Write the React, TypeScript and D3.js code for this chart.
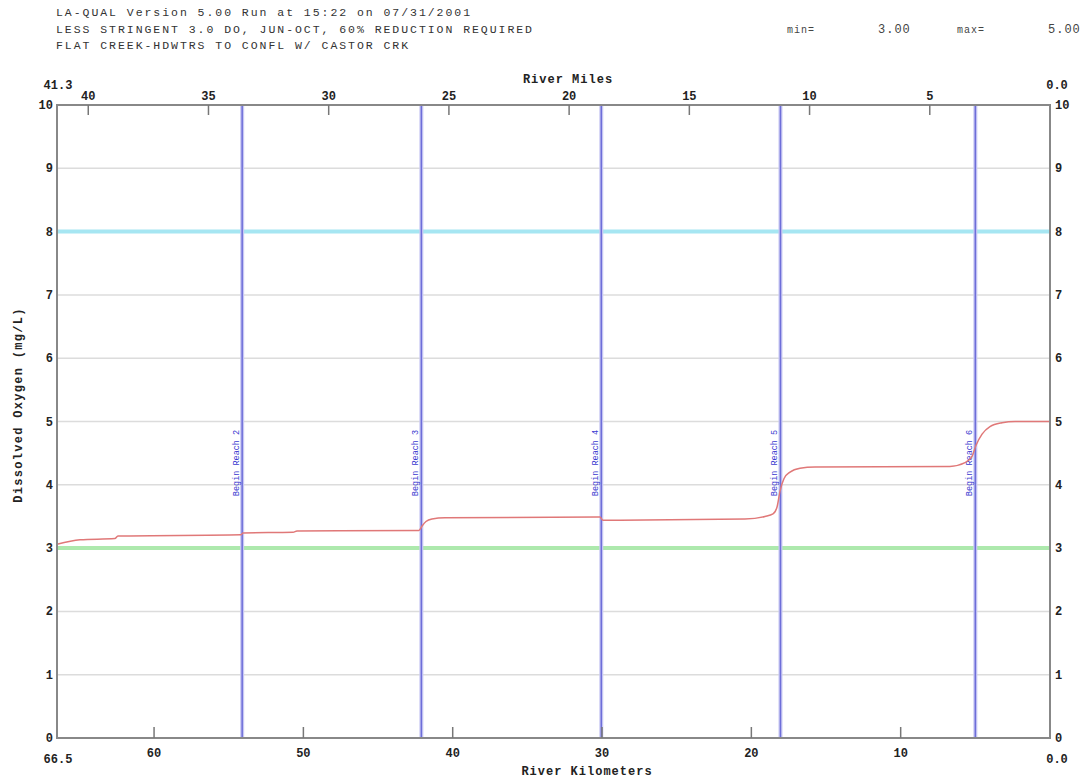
import React from "react";
import * as d3 from "d3";

// Header lines
const headerLines = [
  "LA-QUAL Version 5.00  Run at 15:22 on 07/31/2001",
  "LESS STRINGENT 3.0 DO, JUN-OCT, 60% REDUCTION REQUIRED",
  "FLAT CREEK-HDWTRS TO CONFL W/ CASTOR CRK",
];
const minLabel = "min=";
const minValue = "3.00";
const maxLabel = "max=";
const maxValue = "5.00";

// Axes domains and ticks
const kmRange = [66.5, 0];
const miRange = [41.3, 0];
const doRange = [0, 10];
const kmTicks = [60, 50, 40, 30, 20, 10];
const miTicks = [40, 35, 30, 25, 20, 15, 10, 5];
const doTicks = [0, 1, 2, 3, 4, 5, 6, 7, 8, 9, 10];

// Reach boundaries (river km) and their labels
const reachKm = [54.1, 42.1, 30.05, 18.05, 5.0];
const reachLabels = ["Begin Reach 2", "Begin Reach 3", "Begin Reach 4", "Begin Reach 5", "Begin Reach 6"];

// Criteria lines (mg/L)
const upperCriterion = 8;
const lowerCriterion = 3;

// Simulated dissolved oxygen profile: river km, DO (mg/L)
const profileKm = [
  66.5, 64.96, 62.62, 62.42, 54.18, 54.04, 50.69, 50.43, 42.26, 42.05, 41.79, 41.39,
  40.52, 30.14, 29.94, 20.43, 19.09, 18.55, 18.28, 18.08, 17.81, 17.41, 16.74, 15.74,
  6.7, 5.69, 5.22, 4.96, 4.55, 4.02, 3.21, 2.34, 0,
];
const profileDO = [
  3.06, 3.13, 3.15, 3.19, 3.21, 3.24, 3.25, 3.27, 3.28, 3.35, 3.42, 3.46,
  3.48, 3.49, 3.44, 3.46, 3.5, 3.54, 3.65, 3.9, 4.1, 4.2, 4.26, 4.28,
  4.29, 4.35, 4.45, 4.62, 4.8, 4.92, 4.98, 5.0, 5.0,
];

const W = 1089;
const H = 778;
const left = 57;
const right = 1050;
const top = 105;
const bottom = 738;

const FONT = "'Liberation Mono', 'DejaVu Sans Mono', monospace";

export default function App() {
  const xKm = d3.scaleLinear().domain(kmRange).range([left, right]);
  const xMi = d3.scaleLinear().domain(miRange).range([left, right]);
  const y = d3.scaleLinear().domain(doRange).range([bottom, top]);

  const pts: [number, number][] = profileKm.map((k, i) => [k, profileDO[i]]);
  const line = d3
    .line<[number, number]>()
    .x((d) => xKm(d[0]))
    .y((d) => y(d[1]))
    .curve(d3.curveMonotoneX);

  const tickStyle = { fontFamily: FONT, fontSize: 12, fontWeight: 700, fill: "#222" } as const;

  return (
    <svg
      width={W}
      height={H}
      style={{ position: "absolute", left: 0, top: 0, background: "#fff" }}
    >
      {/* header */}
      {headerLines.map((t, i) => (
        <text
          key={i}
          x={56}
          y={16 + i * 16.5}
          style={{ fontFamily: FONT, fontSize: 11.5, fill: "#333", letterSpacing: 1.95 }}
        >
          {t}
        </text>
      ))}
      <text x={787} y={33} style={{ fontFamily: FONT, fontSize: 10, fill: "#444", letterSpacing: 1 }}>
        {minLabel}
      </text>
      <text x={878} y={33} style={{ fontFamily: FONT, fontSize: 12, fill: "#444", letterSpacing: 1 }}>
        {minValue}
      </text>
      <text x={957} y={33} style={{ fontFamily: FONT, fontSize: 10, fill: "#444", letterSpacing: 1 }}>
        {maxLabel}
      </text>
      <text x={1048} y={33} style={{ fontFamily: FONT, fontSize: 12, fill: "#444", letterSpacing: 1 }}>
        {maxValue}
      </text>

      {/* horizontal grid */}
      {doTicks
        .filter((t) => t > 0 && t < 10)
        .map((t) => (
          <line key={t} x1={left} x2={right} y1={y(t)} y2={y(t)} stroke="#dcdcdc" strokeWidth={1.5} />
        ))}

      {/* criteria */}
      <line x1={left} x2={right} y1={y(upperCriterion)} y2={y(upperCriterion)} stroke="#a6e6f2" strokeWidth={4} />
      <line x1={left} x2={right} y1={y(lowerCriterion)} y2={y(lowerCriterion)} stroke="#ade9ad" strokeWidth={4} />

      {/* reach boundaries */}
      {reachKm.map((k, i) => (
        <g key={k}>
          <line x1={xKm(k)} x2={xKm(k)} y1={top} y2={bottom} stroke="#c9c9f3" strokeWidth={4} />
          <line x1={xKm(k)} x2={xKm(k)} y1={top} y2={bottom} stroke="#6e6ed9" strokeWidth={1.5} />
          <text
            transform={`translate(${xKm(k) - 3},${463}) rotate(-90)`}
            textAnchor="middle"
            style={{ fontFamily: FONT, fontSize: 8.5, fill: "#3a3ad0" }}
          >
            {reachLabels[i]}
          </text>
        </g>
      ))}

      {/* DO profile */}
      <path d={line(pts) || ""} fill="none" stroke="#e07878" strokeWidth={1.5} />

      {/* frame */}
      <rect x={left} y={top} width={right - left} height={bottom - top} fill="none" stroke="#888" strokeWidth={2} />

      {/* bottom km ticks */}
      {kmTicks.map((t) => (
        <g key={t}>
          <line x1={xKm(t)} x2={xKm(t)} y1={bottom} y2={bottom - 11} stroke="#777" strokeWidth={1.5} />
          <text x={xKm(t)} y={757} textAnchor="middle" style={tickStyle}>
            {t}
          </text>
        </g>
      ))}
      <text x={xKm(kmRange[0]) + 1} y={763} textAnchor="middle" style={tickStyle}>
        {kmRange[0].toFixed(1)}
      </text>
      <text x={xKm(kmRange[1]) + 7} y={763} textAnchor="middle" style={tickStyle}>
        {kmRange[1].toFixed(1)}
      </text>
      <text x={587} y={775} textAnchor="middle" style={{ ...tickStyle, letterSpacing: 1 }}>
        River Kilometers
      </text>

      {/* top mile ticks */}
      {miTicks.map((t) => (
        <g key={t}>
          <line x1={xMi(t)} x2={xMi(t)} y1={top} y2={top + 10} stroke="#777" strokeWidth={1.5} />
          <text x={xMi(t)} y={100} textAnchor="middle" style={tickStyle}>
            {t}
          </text>
        </g>
      ))}
      <text x={xMi(miRange[0]) + 1} y={89} textAnchor="middle" style={tickStyle}>
        {miRange[0].toFixed(1)}
      </text>
      <text x={xMi(miRange[1]) + 7} y={89} textAnchor="middle" style={tickStyle}>
        {miRange[1].toFixed(1)}
      </text>
      <text x={568} y={83} textAnchor="middle" style={{ ...tickStyle, letterSpacing: 1 }}>
        River Miles
      </text>

      {/* DO ticks left and right */}
      {doTicks.map((t) => (
        <g key={t}>
          <text x={53} y={y(t) + 4} textAnchor="end" style={tickStyle}>
            {t}
          </text>
          <text x={1055} y={y(t) + 4} textAnchor="start" style={tickStyle}>
            {t}
          </text>
        </g>
      ))}
      <text
        transform={`translate(22,405) rotate(-90)`}
        textAnchor="middle"
        style={{ ...tickStyle, letterSpacing: 1.3 }}
      >
        Dissolved Oxygen (mg/L)
      </text>
    </svg>
  );
}
